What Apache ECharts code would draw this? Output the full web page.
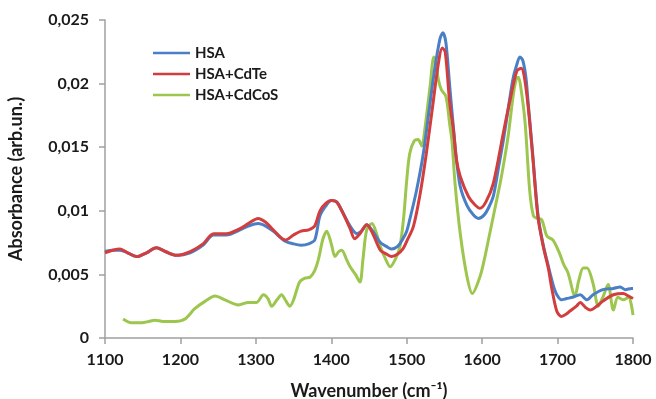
<!DOCTYPE html>
<html>
<head>
<meta charset="utf-8">
<script src="https://cdn.jsdelivr.net/npm/echarts@6/dist/echarts.min.js"></script>
<style>
html,body{margin:0;padding:0;background:#fff;}
#chart{width:656px;height:399px;}
</style>
</head>
<body>
<div id="chart"></div>
<script>
const seriesNames = ['HSA', 'HSA+CdTe', 'HSA+CdCoS'];
const xTicks = [1100, 1200, 1300, 1400, 1500, 1600, 1700, 1800];
const yTicks = [0, 0.005, 0.01, 0.015, 0.02, 0.025];

const hsaX = [1100,1110,1120,1130,1142,1155,1168,1180,1195,1213,1230,1244,1261,1279,1290,1303,1313,1323,1339,1350,1360,1370,1378,1385,1393,1400,1407,1414,1425,1434,1440,1447,1455,1465,1473,1480,1488,1495,1500,1504,1513,1522,1531,1537,1544,1548,1552,1557,1562,1566,1571,1580,1588,1595,1603,1609,1615,1622,1628,1635,1641,1646,1650,1654,1658,1661,1667,1674,1681,1688,1690,1695,1699,1705,1712,1720,1730,1739,1747,1760,1774,1783,1790,1798,1800];
const hsaY = [0.0068,0.0069,0.0069,0.0067,0.0064,0.0067,0.0071,0.0068,0.0065,0.0067,0.0073,0.0081,0.0081,0.0085,0.0088,0.0090,0.0088,0.0084,0.0076,0.0074,0.0073,0.0074,0.0077,0.0096,0.0104,0.0108,0.0107,0.0100,0.0088,0.0082,0.0084,0.0089,0.0084,0.0075,0.0072,0.0070,0.0072,0.0078,0.0084,0.0093,0.0116,0.0145,0.0185,0.0211,0.0235,0.0240,0.0232,0.0198,0.0165,0.0140,0.0119,0.0104,0.0097,0.0094,0.0097,0.0103,0.0112,0.0135,0.0155,0.0182,0.0204,0.0215,0.0221,0.0218,0.0205,0.0185,0.0145,0.0097,0.0073,0.0056,0.0051,0.0040,0.0034,0.0030,0.0031,0.0032,0.0034,0.0030,0.0034,0.0038,0.0039,0.0040,0.0038,0.0039,0.0039];

const cdteX = [1100,1110,1120,1130,1142,1155,1168,1180,1195,1213,1230,1244,1261,1279,1290,1303,1313,1323,1339,1350,1360,1370,1378,1385,1393,1400,1407,1414,1425,1431,1438,1447,1455,1465,1473,1480,1488,1495,1500,1509,1518,1526,1535,1542,1547,1551,1557,1562,1566,1571,1582,1590,1597,1605,1615,1628,1637,1646,1652,1656,1661,1667,1674,1681,1688,1692,1699,1705,1712,1716,1725,1730,1737,1743,1752,1760,1774,1787,1794,1800];
const cdteY = [0.0067,0.0069,0.0070,0.0067,0.0064,0.0067,0.0071,0.0068,0.0065,0.0068,0.0074,0.0082,0.0082,0.0086,0.0090,0.0094,0.0091,0.0085,0.0077,0.0081,0.0084,0.0085,0.0088,0.0100,0.0106,0.0108,0.0107,0.0100,0.0086,0.0078,0.0082,0.0089,0.0082,0.0069,0.0066,0.0064,0.0066,0.0070,0.0076,0.0088,0.0114,0.0145,0.0185,0.0216,0.0228,0.0225,0.0185,0.0163,0.0140,0.0127,0.0111,0.0105,0.0102,0.0107,0.0122,0.0161,0.0187,0.0210,0.0212,0.0205,0.0182,0.0143,0.0095,0.0072,0.0054,0.0040,0.0021,0.0017,0.0019,0.0021,0.0025,0.0028,0.0024,0.0022,0.0025,0.0029,0.0034,0.0035,0.0033,0.0031];

const cdcosX = [1124,1135,1149,1158,1166,1177,1193,1206,1219,1233,1246,1259,1277,1290,1301,1310,1316,1321,1328,1334,1340,1345,1350,1358,1365,1372,1378,1383,1389,1394,1400,1405,1410,1414,1420,1425,1432,1438,1442,1447,1454,1460,1465,1472,1478,1485,1491,1496,1500,1504,1510,1515,1520,1524,1531,1536,1539,1542,1546,1552,1557,1560,1564,1571,1580,1587,1597,1603,1610,1617,1624,1630,1635,1641,1645,1648,1651,1657,1663,1668,1673,1679,1686,1694,1703,1708,1714,1723,1728,1734,1739,1747,1754,1760,1767,1774,1780,1787,1794,1800];
const cdcosY = [0.0015,0.0012,0.0012,0.0013,0.0014,0.0013,0.0013,0.0015,0.0023,0.0029,0.0033,0.0030,0.0026,0.0028,0.0028,0.0034,0.0031,0.0025,0.0030,0.0034,0.0029,0.0025,0.0030,0.0044,0.0047,0.0048,0.0053,0.0062,0.0078,0.0084,0.0074,0.0064,0.0068,0.0069,0.0062,0.0056,0.0050,0.0044,0.0062,0.0085,0.0090,0.0082,0.0072,0.0062,0.0056,0.0062,0.0072,0.0095,0.0124,0.0145,0.0155,0.0156,0.0151,0.0164,0.0198,0.0221,0.0215,0.0203,0.0195,0.0190,0.0168,0.0155,0.0122,0.0082,0.0048,0.0035,0.0048,0.0062,0.0082,0.0102,0.0122,0.0142,0.0161,0.0190,0.0203,0.0205,0.0198,0.0169,0.0116,0.0096,0.0094,0.0093,0.0080,0.0077,0.0066,0.0058,0.0051,0.0033,0.0045,0.0055,0.0055,0.0043,0.0025,0.0032,0.0042,0.0022,0.0032,0.0030,0.0032,0.0018];

const colors = ['#4a7fc6', '#d23d3e', '#9cc64e'];
const zip = (xs, ys) => xs.map((x, i) => [x, ys[i]]);
const seriesData = [zip(hsaX, hsaY), zip(cdteX, cdteY), zip(cdcosX, cdcosY)];

const fmt = v => v === 0 ? '0' : String(+v.toFixed(3)).replace('.', ',');
const font = 'Lato, "Open Sans", sans-serif';

const chart = echarts.init(document.getElementById('chart'));
chart.setOption({
  animation: false,
  backgroundColor: '#fff',
  color: colors,
  grid: { left: 105, right: 23, top: 20, bottom: 61, containLabel: false, outerBoundsMode: 'none' },
  legend: {
    orient: 'vertical', left: 148, top: 40,
    icon: 'rect', itemWidth: 37, itemHeight: 2.5, itemGap: 5,
    data: seriesNames,
    textStyle: { fontFamily: font, fontWeight: 'bold', fontSize: 15, lineHeight: 16, color: '#1a1a1a' }
  },
  xAxis: {
    type: 'value', min: xTicks[0], max: xTicks[xTicks.length - 1], interval: 100,
    name: 'Wavenumber (cm⁻¹)', nameLocation: 'middle', nameGap: 44,
    nameTextStyle: { fontFamily: font, fontWeight: 'bold', fontSize: 18, color: '#1a1a1a' },
    axisLine: { lineStyle: { color: '#a0a0a0', width: 1.5 } },
    axisTick: { show: true, length: 6, lineStyle: { color: '#a0a0a0', width: 1.5 } },
    axisLabel: { fontFamily: font, fontWeight: 'bold', fontSize: 16, color: '#1a1a1a', margin: 14, formatter: v => String(v) },
    splitLine: { show: false }
  },
  yAxis: {
    type: 'value', min: yTicks[0], max: yTicks[yTicks.length - 1], interval: 0.005,
    name: 'Absorbance (arb.un.)', nameLocation: 'middle', nameGap: 80,
    nameTextStyle: { fontFamily: font, fontWeight: 'bold', fontSize: 18, color: '#1a1a1a' },
    axisLine: { show: true, lineStyle: { color: '#a0a0a0', width: 1.5 } },
    axisTick: { show: true, length: 6, lineStyle: { color: '#a0a0a0', width: 1.5 } },
    axisLabel: { fontFamily: font, fontWeight: 'bold', fontSize: 16, color: '#1a1a1a', margin: 16, formatter: fmt },
    splitLine: { show: false }
  },
  series: seriesNames.map((n, i) => ({
    name: n, type: 'line', data: seriesData[i],
    symbol: 'none', smooth: 0.3,
    lineStyle: { width: 3, color: colors[i] },
    z: i === 2 ? 1 : (i === 0 ? 2 : 3)
  }))
});
</script>
</body>
</html>
